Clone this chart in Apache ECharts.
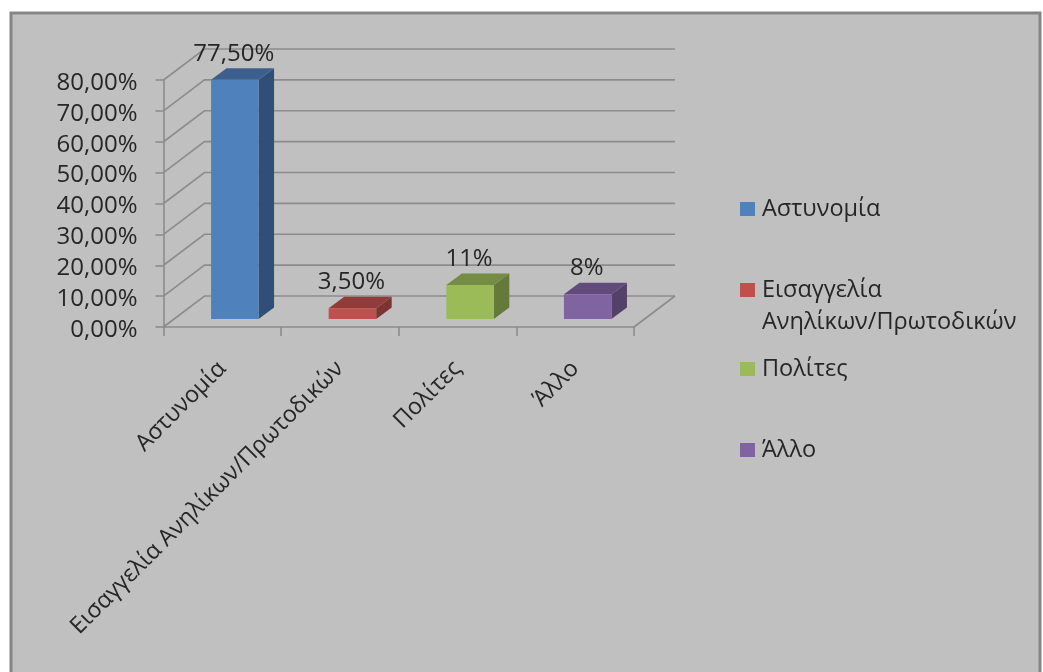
<!DOCTYPE html>
<html>
<head>
<meta charset="utf-8">
<style>html,body{margin:0;padding:0;background:#fff}#c{width:1043px;height:672px}</style>
<script src="https://cdn.jsdelivr.net/npm/echarts@6/dist/echarts.min.js"></script>
</head>
<body>
<div id="c"></div>
<script>
const categories = ['Αστυνομία', 'Εισαγγελία Ανηλίκων/Πρωτοδικών', 'Πολίτες', 'Άλλο'];
const values = [77.5, 3.5, 11, 8];
const valueLabels = ['77,50%', '3,50%', '11%', '8%'];
const yTicks = [0, 10, 20, 30, 40, 50, 60, 70, 80];
const frontColors = ['#4f81bd', '#c0504d', '#9bbb59', '#8064a2'];
const topColors = ['#3c5f8d', '#903c3a', '#748c43', '#604b7a'];
const sideColors = ['#304f77', '#7c3331', '#64793a', '#534168'];
const legendTops = [200, 290, 360, 441];

const FONT = "'Open Sans', 'Noto Sans', sans-serif";
const TEXT = '#262626';
const LINE = '#8c8c8c';
const WALL_DX = 41, WALL_DY = -31;
const BAR_DX = 12.5, BAR_DY = -8, BAR_W = 47.5, DEPTH_X = 15.5, DEPTH_Y = -11.5;

function renderWall(params, api) {
  const cs = params.coordSys;
  const y = api.coord([0, api.value(0)])[1];
  const x0 = cs.x, x1 = cs.x + cs.width;
  const style = { stroke: LINE, lineWidth: 1.6, fill: 'none' };
  const children = [{
    type: 'polyline',
    shape: { points: [[x0, y], [x0 + WALL_DX, y + WALL_DY], [x1 + WALL_DX, y + WALL_DY]] },
    style
  }];
  if (api.value(0) === 0) {
    children.push({
      type: 'line',
      shape: { x1: x1, y1: y, x2: x1 + WALL_DX, y2: y + WALL_DY },
      style
    });
  }
  return { type: 'group', children };
}

function renderBar(i) {
  return function (params, api) {
    const top = api.coord([api.value(0), api.value(1)]);
    const base = api.coord([api.value(0), 0]);
    const l = top[0] + BAR_DX - BAR_W / 2, r = l + BAR_W;
    const t = top[1] + BAR_DY, b = base[1] + BAR_DY;
    const poly = (points, fill) => ({ type: 'polygon', shape: { points }, style: { fill } });
    return {
      type: 'group',
      children: [
        poly([[r, t], [r + DEPTH_X, t + DEPTH_Y], [r + DEPTH_X, b + DEPTH_Y], [r, b]], sideColors[i]),
        poly([[l, t], [l + DEPTH_X, t + DEPTH_Y], [r + DEPTH_X, t + DEPTH_Y], [r, t]], topColors[i]),
        poly([[l, t], [r, t], [r, b], [l, b]], frontColors[i]),
        {
          type: 'text',
          z2: 10,
          style: {
            x: (l + r) / 2 - 1, y: t - 26, text: valueLabels[i],
            fill: TEXT, font: '24px ' + FONT, align: 'center', verticalAlign: 'middle'
          }
        }
      ]
    };
  };
}

const option = {
  animation: false,
  graphic: [{
    type: 'rect', z: -100, silent: true,
    shape: { x: 11, y: 13, width: 1029, height: 720 },
    style: { fill: '#c0c0c0', stroke: '#858585', lineWidth: 3 }
  }],
  grid: { left: 163.5, top: 80, width: 470.5, height: 247 },
  xAxis: {
    type: 'category', data: categories,
    axisLine: { lineStyle: { color: LINE, width: 1.6 } },
    axisTick: { show: true, length: 9, alignWithLabel: false, lineStyle: { color: LINE, width: 1.6 } },
    axisLabel: { interval: 0, rotate: 45, margin: 38, color: TEXT, fontFamily: FONT, fontSize: 23.2, hideOverlap: false }
  },
  yAxis: {
    type: 'value', min: 0, max: 80, interval: 10,
    axisLine: { show: true, lineStyle: { color: LINE, width: 1.6 } },
    axisTick: { show: true, length: 8, lineStyle: { color: LINE, width: 1.6 } },
    splitLine: { show: false },
    axisLabel: {
      margin: 26, color: TEXT, fontFamily: FONT, fontSize: 24, verticalAlign: 'top', lineHeight: 6,
      formatter: v => v.toFixed(2).replace('.', ',') + '%'
    }
  },
  legend: categories.map((name, i) => ({
    data: [name], orient: 'vertical', selectedMode: false, left: 740,
    top: legendTops[i] - (i === 1 ? 48 : 7),
    itemWidth: 15, itemHeight: 14, itemGap: 0, padding: 0,
    icon: 'rect',
    formatter: n => n.includes(' ') ? '\n' + n.replace(' ', '\n') : n,
    textStyle: { color: TEXT, fontFamily: FONT, fontSize: 23.5, lineHeight: 32, padding: [0, 0, 0, 2] }
  })),
  series: [
    {
      type: 'custom', name: 'wall', silent: true, z: 1,
      renderItem: renderWall,
      data: yTicks.map(v => [v]),
      encode: { y: 0 }
    }
  ].concat(categories.map((name, i) => ({
    type: 'custom', name, z: 2 + i, silent: true,
    itemStyle: { color: frontColors[i] },
    renderItem: renderBar(i),
    data: [[i, values[i]]],
    encode: { x: 0, y: 1 }
  })))
};
echarts.init(document.getElementById('c'), null, { renderer: 'canvas' }).setOption(option);
</script>
</body>
</html>
